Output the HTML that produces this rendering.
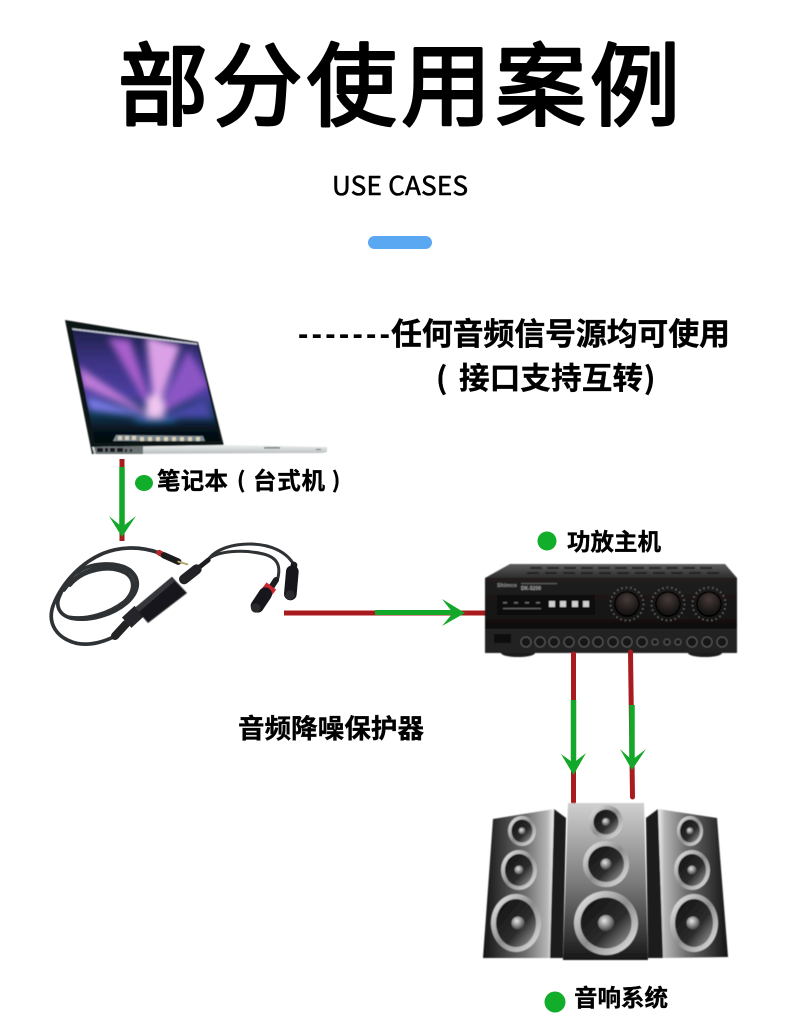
<!DOCTYPE html>
<html lang="zh"><head><meta charset="utf-8"><title>部分使用案例</title>
<style>html,body{margin:0;padding:0;background:#fff}svg{display:block}
text{font-family:"Liberation Sans","Noto Sans CJK SC",sans-serif;fill:#000}
.c{font-family:"Noto Sans CJK SC","Liberation Sans",sans-serif;font-weight:700;stroke:#000;stroke-width:.35px}
.t{font-family:"Noto Sans CJK SC","Liberation Sans",sans-serif;font-weight:400;stroke:#000;stroke-width:3px;stroke-linejoin:round}</style></head><body>
<svg width="800" height="1035" viewBox="0 0 800 1035" xmlns="http://www.w3.org/2000/svg">
<defs>
<filter id="b1" x="-20%" y="-20%" width="140%" height="140%"><feGaussianBlur stdDeviation="0.45"/></filter>
<filter id="b3" x="-50%" y="-50%" width="200%" height="200%"><feGaussianBlur stdDeviation="3.4"/></filter>
<clipPath id="scr"><polygon points="72,328 197,343 220,441 95,443"/></clipPath>
<linearGradient id="scrBg" x1="0" y1="0" x2="0" y2="1"><stop offset="0" stop-color="#1d2148"/><stop offset=".3" stop-color="#3d3385"/><stop offset=".58" stop-color="#4a3e9e"/><stop offset=".74" stop-color="#123a58"/><stop offset=".88" stop-color="#07151f"/><stop offset="1" stop-color="#040608"/></linearGradient>
<linearGradient id="base" x1="0" y1="0" x2="0" y2="1"><stop offset="0" stop-color="#eef0f0"/><stop offset="1" stop-color="#b6bcbc"/></linearGradient>
<linearGradient id="amp" x1="0" y1="0" x2="0" y2="1"><stop offset="0" stop-color="#211f1f"/><stop offset="1" stop-color="#100f0f"/></linearGradient>
<linearGradient id="ampTop" x1="0" y1="0" x2="0" y2="1"><stop offset="0" stop-color="#5d5d5d"/><stop offset="1" stop-color="#2c2c2c"/></linearGradient>
<linearGradient id="sL" x1="0" y1="0" x2="1" y2="0"><stop offset="0" stop-color="#131313"/><stop offset=".6" stop-color="#6e6e6e"/><stop offset=".9" stop-color="#b4b4b4"/><stop offset="1" stop-color="#f2f2f2"/></linearGradient>
<linearGradient id="sR" x1="1" y1="0" x2="0" y2="0"><stop offset="0" stop-color="#131313"/><stop offset=".6" stop-color="#6e6e6e"/><stop offset=".9" stop-color="#b4b4b4"/><stop offset="1" stop-color="#f2f2f2"/></linearGradient>
<linearGradient id="sC" x1="0" y1="0" x2="0" y2="1"><stop offset="0" stop-color="#d0d0d0"/><stop offset=".5" stop-color="#7c7c7c"/><stop offset="1" stop-color="#171717"/></linearGradient>
<linearGradient id="ring" x1="0" y1="0" x2="1" y2="1"><stop offset="0" stop-color="#f4f4f4"/><stop offset=".5" stop-color="#8c8c8c"/><stop offset="1" stop-color="#ececec"/></linearGradient>
<linearGradient id="cone" x1="0" y1="0" x2="1" y2="1"><stop offset="0" stop-color="#101010"/><stop offset=".6" stop-color="#2c2c2c"/><stop offset="1" stop-color="#a8a8a8"/></linearGradient>
<radialGradient id="dust" cx=".4" cy=".35" r=".7"><stop offset="0" stop-color="#e8e8e8"/><stop offset="1" stop-color="#3a3a3a"/></radialGradient>
<radialGradient id="knob" cx=".5" cy=".3" r=".8"><stop offset="0" stop-color="#463a38"/><stop offset="1" stop-color="#070707"/></radialGradient>
</defs>

<!-- Heading -->
<text class="t" x="118" y="118" font-size="90" textLength="562" lengthAdjust="spacing">部分使用案例</text>
<text x="400" y="195" font-size="26" text-anchor="middle" style="font-family:'Noto Sans CJK SC','Liberation Sans',sans-serif;font-weight:400;stroke:#000;stroke-width:.6px" textLength="136">USE CASES</text>
<rect x="368" y="236" width="64" height="13" rx="6.500" fill="#5aa8f2"/>

<!-- Right notes -->
<text x="298" y="344" font-size="31" font-weight="700" textLength="92" lengthAdjust="spacing">-------</text>
<text class="c" x="391" y="345" font-size="31" textLength="339" lengthAdjust="spacing">任何音频信号源均可使用</text>
<text class="c" x="436" y="389" font-size="30">(</text>
<text class="c" x="459" y="389" font-size="30.500" textLength="184" lengthAdjust="spacing">接口支持互转</text>
<text class="c" x="644" y="389" font-size="30">)</text>

<!-- Laptop -->
<g filter="url(#b1)">
<polygon points="65,320 198,342 224,446 92,454" fill="#101214"/>
<polygon points="72,328 197,343 220,441 95,443" fill="url(#scrBg)"/>
<g clip-path="url(#scr)">
<g filter="url(#b3)">
<polygon points="155,418 108,338 130,340" fill="#a95fcb"/>
<polygon points="155,418 146,336 180,346" fill="#dba0e6"/>
<polygon points="155,418 188,350 210,385" fill="#8b55c4"/>
<polygon points="155,418 78,366 82,386" fill="#c07ad8"/>
<polygon points="155,418 86,396 90,410" fill="#7a79e6"/>
<polygon points="155,418 205,400 214,418" fill="#4a46a8"/>
<ellipse cx="155" cy="408" rx="9" ry="14" fill="#f0c6f0"/>
<ellipse cx="155" cy="420" rx="22" ry="3" fill="#2a66a4"/>
</g>
<polygon points="72,328 197,343 198,345 72,330" fill="#b8bcc8"/>
<polygon points="113,441 116,435 203,436 205,441" fill="#7c8a92"/>
<g fill="#d8cfb8"><rect x="118" y="436" width="4" height="4"/><rect x="125" y="436" width="4" height="4"/><rect x="132" y="436" width="4" height="4"/><rect x="140" y="437" width="4" height="4"/><rect x="148" y="437" width="4" height="4"/><rect x="156" y="437" width="4" height="4"/><rect x="164" y="437" width="4" height="4"/><rect x="172" y="437" width="4" height="4"/><rect x="180" y="437" width="4" height="4"/><rect x="188" y="437" width="4" height="4"/><rect x="196" y="437" width="4" height="4"/></g>
</g>
<polygon points="92,447 224,445 327,447 327,452 322,453 94,454" fill="url(#base)"/>
<polygon points="94,447 143,446 143,454 96,454" fill="#6a7273"/>
<g fill="#15191a"><rect x="97" y="448" width="6" height="4"/><rect x="105" y="448" width="3" height="4"/><rect x="110" y="448" width="5" height="4"/><rect x="117" y="448" width="6" height="4"/><rect x="125" y="449" width="2" height="3"/><rect x="130" y="449" width="2" height="3"/></g>
<rect x="264" y="447" width="16" height="1.600" fill="#78807f"/>
<rect x="316" y="449" width="5" height="1" fill="#5c6363"/>
</g>

<!-- Arrow 1 -->
<line x1="122" y1="459" x2="122" y2="541" stroke="#a31d1f" stroke-width="5"/>
<line x1="122" y1="467" x2="122" y2="530" stroke="#13a82a" stroke-width="5.500"/>
<polygon points="109,516 122,527 136,516 122,537" fill="#13a82a"/>
<ellipse cx="144" cy="483" rx="9" ry="8" fill="#12ad2b"/>
<text class="c" x="157" y="489" font-size="23.500" textLength="71" lengthAdjust="spacing">笔记本</text>
<text class="c" x="237" y="488" font-size="22">(</text>
<text class="c" x="253" y="489" font-size="23.500" textLength="72" lengthAdjust="spacing">台式机</text>
<text class="c" x="332" y="488" font-size="22">)</text>

<!-- Cable (coordinates are in a 3x local space) -->
<g transform="translate(40,530) scale(.33333)" filter="url(#b1)" fill="none" stroke-linecap="round" stroke-linejoin="round">
<g stroke="#2e3134" stroke-width="11">
<path d="M355,68 C300,48 240,50 190,70 C130,95 70,150 40,225 C20,280 50,325 110,340 C150,348 200,335 235,312"/>
<path d="M115,125 C160,95 235,95 270,120 C300,145 300,180 265,215 C220,255 150,275 95,265 C55,255 45,225 60,195 C75,160 95,135 115,125"/>
<path d="M90,165 C130,118 210,103 258,130 C288,150 283,188 252,216 C205,252 140,270 88,262"/>
<path d="M72,180 C110,125 180,100 240,112 C290,125 300,160 275,200"/>
<path stroke-width="9" d="M505,88 C530,55 580,42 630,42 C690,42 740,65 762,105"/>
<path stroke-width="9" d="M512,82 C550,60 620,60 670,72 C710,82 725,105 712,150"/>
</g>
<path d="M225,318 L258,282" stroke="#202124" stroke-width="24"/>
<path d="M260,278 L298,243" stroke="#26282b" stroke-width="42" stroke-linecap="butt"/>
<path d="M470,118 L505,90" stroke="#1d1e20" stroke-width="14"/>
<path d="M432,148 L470,118" stroke="#222326" stroke-width="30"/>
<path d="M357,68 L372,76" stroke="#b7272b" stroke-width="17"/>
<path d="M372,76 L415,95" stroke="#1b1c1e" stroke-width="19"/>
<path d="M415,95 L442,103" stroke="#b7a66c" stroke-width="6"/>
<path d="M708,150 L695,170" stroke="#1e1f21" stroke-width="18"/>
<path d="M694,168 L676,192" stroke="#c9282d" stroke-width="36" stroke-linecap="butt"/>
<path d="M676,192 L652,228" stroke="#17181a" stroke-width="40"/>
<circle cx="647" cy="234" r="14" fill="#2b2c2e" stroke="none"/>
<path d="M762,105 L758,128" stroke="#1e1f21" stroke-width="20"/>
<path d="M757,125 L751,192" stroke="#17181a" stroke-width="38"/>
<circle cx="750" cy="195" r="14" fill="#2b2c2e" stroke="none"/>
</g>
<polygon points="135,608 172,577 187,593 148,623" fill="#17181a" filter="url(#b1)"/>
<polygon points="135,608 172,577 175,581 139,612" fill="#35373a"/>

<!-- Arrow 2 -->
<line x1="284" y1="613" x2="487" y2="613" stroke="#a81a1c" stroke-width="5"/>
<line x1="375" y1="612.500" x2="455" y2="612.500" stroke="#13a82a" stroke-width="5"/>
<polygon points="442,599 453,613 442,626 465,613" fill="#13a82a"/>

<!-- Amplifier -->
<circle cx="547" cy="541" r="9.500" fill="#12ad2b"/>
<text class="c" x="567" y="550" font-size="23.500" textLength="94" lengthAdjust="spacing">功放主机</text>
<g filter="url(#b1)">
<ellipse cx="518" cy="653" rx="17" ry="4" fill="#1a1a1a"/>
<ellipse cx="705" cy="653" rx="17" ry="4" fill="#1a1a1a"/>
<polygon points="510,564 725,564 737,578 485,578" fill="url(#ampTop)"/>
<g fill="#242424">
<rect x="530" y="567" width="12" height="2"/><rect x="547" y="567" width="12" height="2"/><rect x="564" y="567" width="12" height="2"/><rect x="581" y="567" width="12" height="2"/><rect x="598" y="567" width="12" height="2"/><rect x="615" y="567" width="12" height="2"/><rect x="632" y="567" width="12" height="2"/><rect x="649" y="567" width="12" height="2"/><rect x="666" y="567" width="12" height="2"/><rect x="683" y="567" width="12" height="2"/><rect x="700" y="567" width="12" height="2"/>
<rect x="527" y="572" width="12" height="2"/><rect x="545" y="572" width="12" height="2"/><rect x="563" y="572" width="12" height="2"/><rect x="581" y="572" width="12" height="2"/><rect x="599" y="572" width="12" height="2"/><rect x="617" y="572" width="12" height="2"/><rect x="635" y="572" width="12" height="2"/><rect x="653" y="572" width="12" height="2"/><rect x="671" y="572" width="12" height="2"/><rect x="689" y="572" width="12" height="2"/><rect x="707" y="572" width="12" height="2"/>
</g>
<rect x="485" y="578" width="252" height="50" fill="url(#amp)"/>
<rect x="485" y="628" width="252" height="25" fill="#242221"/>
<rect x="485" y="627.500" width="252" height="1" fill="#050505"/>
<text x="497" y="587" font-size="5.500" font-weight="700" style="fill:#8d8d8d">Shimco</text>
<text x="521" y="590" font-size="5" font-weight="700" style="fill:#a6a6a6">DK-5200</text>
<rect x="521" y="583" width="36" height="1.200" fill="#5c5c5c"/>
<rect x="497" y="595" width="98" height="20" fill="#070707"/>
<g fill="#cfcfcf"><rect x="549" y="601" width="6" height="6"/><rect x="560" y="601" width="6" height="6"/><rect x="572" y="601" width="6" height="6"/><rect x="583" y="601" width="6" height="6"/></g>
<g fill="#666"><rect x="503" y="602" width="4" height="1.500"/><rect x="514" y="602" width="4" height="1.500"/><rect x="525" y="602" width="4" height="1.500"/><rect x="536" y="602" width="4" height="1.500"/><rect x="503" y="608" width="38" height="1.200"/></g>
<g fill="url(#knob)" stroke="#000" stroke-width="1.500"><circle cx="627" cy="604" r="12"/><circle cx="668" cy="604" r="12"/><circle cx="709" cy="604" r="12"/></g>
<g fill="none" stroke="#777" stroke-width="1.600" stroke-dasharray="1 3.500"><circle cx="627" cy="604" r="16.500"/><circle cx="668" cy="604" r="16.500"/><circle cx="709" cy="604" r="16.500"/></g>
<rect x="494" y="634" width="17" height="9" fill="#0f0f0f"/>
<g fill="#141414" stroke="#5f5c5a" stroke-width="1">
<circle cx="526" cy="642" r="5"/><circle cx="540" cy="642" r="5"/><circle cx="554" cy="642" r="5"/><circle cx="569" cy="642" r="5"/><circle cx="584" cy="642" r="5"/><circle cx="598" cy="642" r="5"/><circle cx="613" cy="642" r="5"/><circle cx="627" cy="642" r="5"/><circle cx="642" cy="642" r="5"/><circle cx="655" cy="642" r="3"/><circle cx="667" cy="642" r="3"/><circle cx="678" cy="642" r="3"/><circle cx="692" cy="642" r="5"/><circle cx="707" cy="642" r="5"/><circle cx="722" cy="642" r="5"/>
</g>
</g>

<!-- Arrows 3/4 -->
<line x1="573.500" y1="654" x2="573.500" y2="802" stroke="#a81c20" stroke-width="5" stroke-linecap="round"/>
<line x1="573.500" y1="700" x2="573.500" y2="766" stroke="#13a82a" stroke-width="5.500"/>
<polygon points="561,754 573.500,763 586,753 573.500,775" fill="#13a82a"/>
<line x1="630.500" y1="652" x2="632.500" y2="797" stroke="#a81c20" stroke-width="5" stroke-linecap="round"/>
<line x1="632" y1="705" x2="632" y2="762" stroke="#13a82a" stroke-width="5.500"/>
<polygon points="620,749 632,760 646,749 632,770" fill="#13a82a"/>

<text class="c" x="238" y="738" font-size="26.500" textLength="186" lengthAdjust="spacing">音频降噪保护器</text>

<!-- Speakers -->
<g filter="url(#b1)">
<polygon points="493,819 554,809 550,958 483,958" fill="url(#sL)"/>
<polygon points="554,809 566,818 563,958 550,958" fill="#1a1a1a"/>
<polygon points="658,809 717,818 728,957 663,958" fill="url(#sR)"/>
<polygon points="646,818 658,809 663,958 648,958" fill="#1a1a1a"/>
<polygon points="568,803 644,803 648,960 563,960" fill="url(#sC)"/>
<g>
<ellipse cx="522" cy="831" rx="14" ry="15" fill="url(#ring)"/><ellipse cx="522" cy="831" rx="10.500" ry="11.500" fill="url(#cone)"/><circle cx="522" cy="831" r="3.500" fill="url(#dust)"/>
<ellipse cx="519" cy="870" rx="18" ry="20" fill="url(#ring)"/><ellipse cx="519" cy="870" rx="14" ry="16" fill="url(#cone)"/><circle cx="519" cy="870" r="4.500" fill="url(#dust)"/>
<ellipse cx="516" cy="923" rx="25" ry="29" fill="url(#ring)"/><ellipse cx="516" cy="923" rx="20" ry="24" fill="url(#cone)"/><circle cx="518" cy="923" r="6.500" fill="url(#dust)"/>
<ellipse cx="690" cy="831" rx="13" ry="15" fill="url(#ring)"/><ellipse cx="690" cy="831" rx="10" ry="11.500" fill="url(#cone)"/><circle cx="690" cy="831" r="3.500" fill="url(#dust)"/>
<ellipse cx="692" cy="870" rx="18" ry="20" fill="url(#ring)"/><ellipse cx="692" cy="870" rx="14" ry="16" fill="url(#cone)"/><circle cx="692" cy="870" r="4.500" fill="url(#dust)"/>
<ellipse cx="694" cy="923" rx="24" ry="29" fill="url(#ring)"/><ellipse cx="694" cy="923" rx="19" ry="24" fill="url(#cone)"/><circle cx="693" cy="923" r="6.500" fill="url(#dust)"/>
<circle cx="606" cy="822" r="17" fill="url(#ring)"/><circle cx="606" cy="822" r="12.500" fill="url(#cone)"/><circle cx="606" cy="822" r="4" fill="url(#dust)"/>
<circle cx="606" cy="864" r="23" fill="url(#ring)"/><circle cx="606" cy="864" r="18" fill="url(#cone)"/><circle cx="606" cy="864" r="5.500" fill="url(#dust)"/>
<circle cx="606" cy="923" r="32" fill="url(#ring)"/><circle cx="606" cy="923" r="25.500" fill="url(#cone)"/><circle cx="606" cy="923" r="8" fill="url(#dust)"/>
</g>
</g>
<circle cx="555" cy="1002" r="10.500" fill="#12ad2b"/>
<text class="c" x="574" y="1006" font-size="23.500" textLength="94" lengthAdjust="spacing">音响系统</text>
</svg>
</body></html>
